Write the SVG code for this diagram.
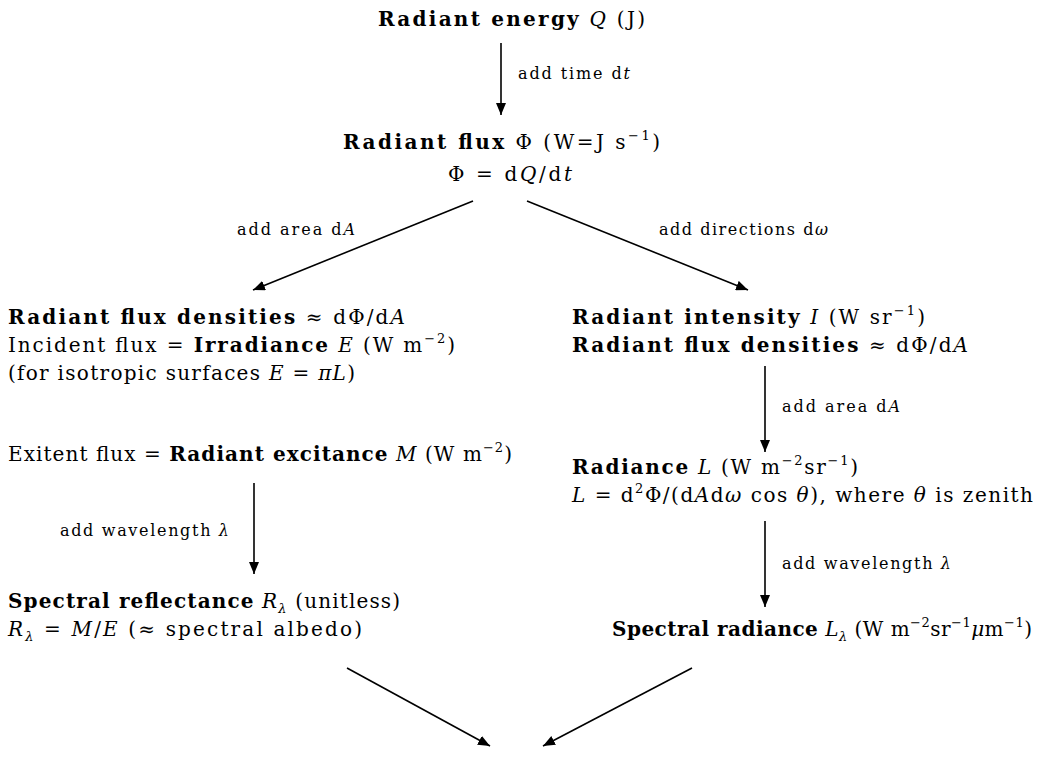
<svg xmlns="http://www.w3.org/2000/svg" width="1037" height="766" viewBox="0 0 1037 766">
  <style>
    text { font-family: "DejaVu Serif", "Liberation Serif", serif; fill: #000; }
    .main { font-size: 20px; }
    .lbl { font-size: 16px; }
    .b { font-weight: bold; }
    .i { font-style: italic; }
    .sup { font-size: 13px; }
    .edge { stroke: #000; stroke-width: 1.6; fill: none; marker-end: url(#head); }
  </style>
  <defs>
    <marker id="head" viewBox="0 0 12 10" refX="12" refY="5" markerWidth="12" markerHeight="10" markerUnits="userSpaceOnUse" orient="auto">
      <path d="M0,0 L12,5 L0,10 Z" fill="#000"/>
    </marker>
  </defs>

  <!-- connectors -->
  <g id="edges">
    <line class="edge" x1="501" y1="43" x2="501" y2="115"/>
    <line class="edge" x1="473" y1="201" x2="253" y2="290"/>
    <line class="edge" x1="527" y1="201" x2="748" y2="290"/>
    <line class="edge" x1="765" y1="366" x2="765" y2="452"/>
    <line class="edge" x1="254" y1="483" x2="254" y2="574"/>
    <line class="edge" x1="765" y1="521" x2="765" y2="607"/>
    <line class="edge" x1="347" y1="668" x2="490" y2="746"/>
    <line class="edge" x1="692" y1="668" x2="543" y2="746"/>
  </g>

  <!-- edge labels -->
  <g id="edge-labels">
    <text class="lbl" x="518" y="79" textLength="112" lengthAdjust="spacing">add time d<tspan class="i">t</tspan></text>
    <text class="lbl" x="237" y="235" textLength="118" lengthAdjust="spacing">add area d<tspan class="i">A</tspan></text>
    <text class="lbl" x="659" y="235" textLength="169" lengthAdjust="spacing">add directions d<tspan class="i">ω</tspan></text>
    <text class="lbl" x="782" y="412" textLength="118" lengthAdjust="spacing">add area d<tspan class="i">A</tspan></text>
    <text class="lbl" x="60" y="536" textLength="169" lengthAdjust="spacing">add wavelength <tspan class="i">λ</tspan></text>
    <text class="lbl" x="782" y="569" textLength="169" lengthAdjust="spacing">add wavelength <tspan class="i">λ</tspan></text>
  </g>

  <g id="energy">
    <text class="main" x="378" y="26" textLength="267" lengthAdjust="spacing"><tspan class="b">Radiant energy</tspan> <tspan class="i">Q</tspan> (J)</text>
  </g>

  <g id="flux">
    <text class="main" x="343" y="149" textLength="317" lengthAdjust="spacing"><tspan class="b">Radiant flux</tspan> Φ (W=J s<tspan class="sup" dy="-9">−1</tspan><tspan dy="9">)</tspan></text>
    <text class="main" x="448" y="181" textLength="124" lengthAdjust="spacing">Φ = d<tspan class="i">Q</tspan>/d<tspan class="i">t</tspan></text>
  </g>

  <g id="densities-area">
    <text class="main" x="8" y="324" textLength="397" lengthAdjust="spacing"><tspan class="b">Radiant flux densities</tspan> ≈ dΦ/d<tspan class="i">A</tspan></text>
    <text class="main" x="8" y="352" textLength="447" lengthAdjust="spacing">Incident flux = <tspan class="b">Irradiance</tspan> <tspan class="i">E</tspan> (W m<tspan class="sup" dy="-9">−2</tspan><tspan dy="9">)</tspan></text>
    <text class="main" x="8" y="380" textLength="347" lengthAdjust="spacing">(for isotropic surfaces <tspan class="i">E</tspan> = <tspan class="i">πL</tspan>)</text>
  </g>

  <g id="excitance">
    <text class="main" x="8" y="461" textLength="504" lengthAdjust="spacing">Exitent flux = <tspan class="b">Radiant excitance</tspan> <tspan class="i">M</tspan> (W m<tspan class="sup" dy="-9">−2</tspan><tspan dy="9">)</tspan></text>
  </g>

  <g id="reflectance">
    <text class="main" x="8" y="608" textLength="392" lengthAdjust="spacing"><tspan class="b">Spectral reflectance</tspan> <tspan class="i">R</tspan><tspan class="sup i" dy="5">λ</tspan><tspan dy="-5"> (unitless)</tspan></text>
    <text class="main" x="8" y="636" textLength="354" lengthAdjust="spacing"><tspan class="i">R</tspan><tspan class="sup i" dy="5">λ</tspan><tspan dy="-5"> = </tspan><tspan class="i">M</tspan>/<tspan class="i">E</tspan> (≈ spectral albedo)</text>
  </g>

  <g id="intensity">
    <text class="main" x="572" y="324" textLength="353" lengthAdjust="spacing"><tspan class="b">Radiant intensity</tspan> <tspan class="i">I</tspan> (W sr<tspan class="sup" dy="-9">−1</tspan><tspan dy="9">)</tspan></text>
    <text class="main" x="572" y="352" textLength="396" lengthAdjust="spacing"><tspan class="b">Radiant flux densities</tspan> ≈ dΦ/d<tspan class="i">A</tspan></text>
  </g>

  <g id="radiance">
    <text class="main" x="572" y="474" textLength="286" lengthAdjust="spacing"><tspan class="b">Radiance</tspan> <tspan class="i">L</tspan> (W m<tspan class="sup" dy="-9">−2</tspan><tspan dy="9">sr</tspan><tspan class="sup" dy="-9">−1</tspan><tspan dy="9">)</tspan></text>
    <text class="main" x="572" y="502" textLength="461" lengthAdjust="spacing"><tspan class="i">L</tspan> = d<tspan class="sup" dy="-9">2</tspan><tspan dy="9">Φ/(d</tspan><tspan class="i">A</tspan>d<tspan class="i">ω</tspan> cos <tspan class="i">θ</tspan>), where <tspan class="i">θ</tspan> is zenith</text>
  </g>

  <g id="spectral-radiance">
    <text class="main" x="612" y="636" textLength="420" lengthAdjust="spacing"><tspan class="b">Spectral radiance</tspan> <tspan class="i">L</tspan><tspan class="sup i" dy="5">λ</tspan><tspan dy="-5"> (W m</tspan><tspan class="sup" dy="-9">−2</tspan><tspan dy="9">sr</tspan><tspan class="sup" dy="-9">−1</tspan><tspan class="i" dy="9">μ</tspan>m<tspan class="sup" dy="-9">−1</tspan><tspan dy="9">)</tspan></text>
  </g>
</svg>
